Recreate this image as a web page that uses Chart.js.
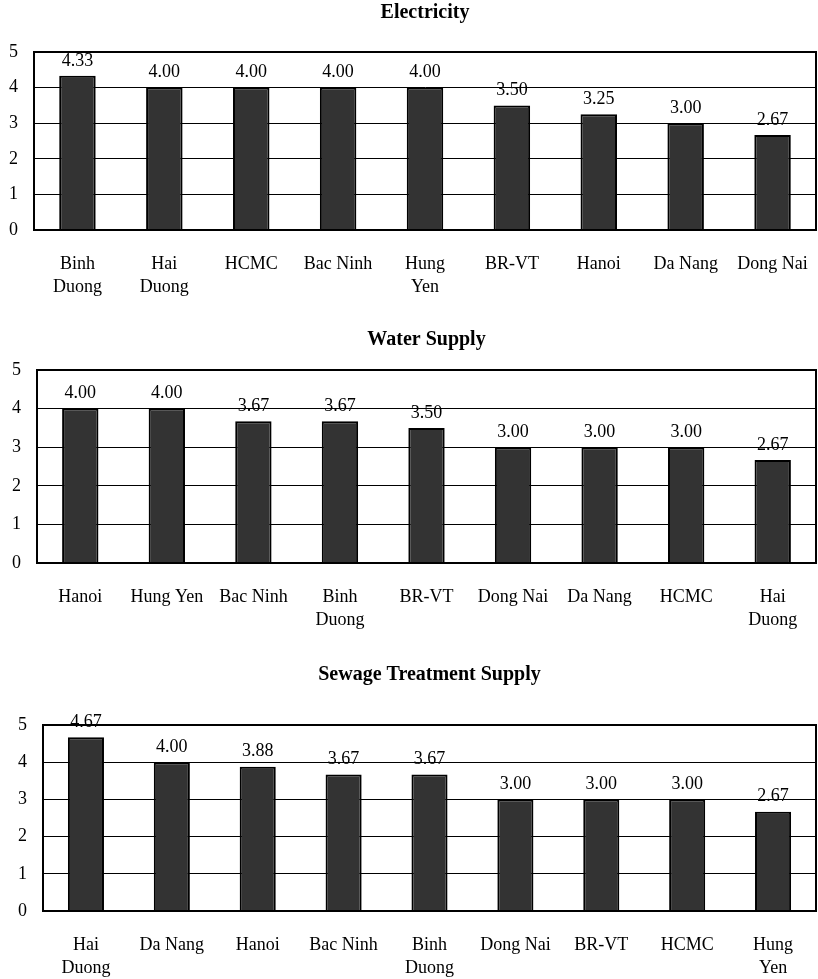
<!DOCTYPE html>
<html>
<head>
<meta charset="utf-8">
<script src="https://cdn.jsdelivr.net/npm/chart.js@4/dist/chart.umd.min.js"></script>
<style>
  body { margin: 0; background: #fff; }
  .box { position: absolute; left: 0; width: 818px; }
</style>
</head>
<body>
<div class="box" style="top:0px"><canvas id="chartElectricity" width="818" height="320"></canvas></div>
<div class="box" style="top:320px"><canvas id="chartWater" width="818" height="330"></canvas></div>
<div class="box" style="top:650px"><canvas id="chartSewage" width="818" height="329"></canvas></div>
<script>
const yTicks = [0, 1, 2, 3, 4, 5];

const elecLabels = [['Binh', 'Duong'], ['Hai', 'Duong'], 'HCMC', 'Bac Ninh', ['Hung', 'Yen'], 'BR-VT', 'Hanoi', 'Da Nang', 'Dong Nai'];
const elecValues = [4.33, 4.00, 4.00, 4.00, 4.00, 3.50, 3.25, 3.00, 2.67];

const waterLabels = ['Hanoi', 'Hung Yen', 'Bac Ninh', ['Binh', 'Duong'], 'BR-VT', 'Dong Nai', 'Da Nang', 'HCMC', ['Hai', 'Duong']];
const waterValues = [4.00, 4.00, 3.67, 3.67, 3.50, 3.00, 3.00, 3.00, 2.67];

const sewageLabels = [['Hai', 'Duong'], 'Da Nang', 'Hanoi', 'Bac Ninh', ['Binh', 'Duong'], 'Dong Nai', 'BR-VT', 'HCMC', ['Hung', 'Yen']];
const sewageValues = [4.67, 4.00, 3.88, 3.67, 3.67, 3.00, 3.00, 3.00, 2.67];

const serif = 'Liberation Serif, Times New Roman, serif';

// frame, title and value labels
const decoPlugin = {
  id: 'deco',
  afterDraw(chart, args, opts) {
    const ctx = chart.ctx;
    const area = chart.chartArea;
    ctx.save();
    ctx.strokeStyle = '#000';
    ctx.lineWidth = 2;
    ctx.strokeRect(area.left, area.top, area.right - area.left, area.bottom - area.top);

    ctx.fillStyle = '#000';
    ctx.textAlign = 'center';
    ctx.textBaseline = 'middle';
    ctx.font = 'bold 20px ' + serif;
    ctx.fillText(opts.title, (area.left + area.right) / 2, opts.titleY);

    ctx.font = '18px ' + serif;
    const meta = chart.getDatasetMeta(0);
    const values = chart.data.datasets[0].data;
    meta.data.forEach(function(bar, i) {
      ctx.fillText(values[i].toFixed(2), bar.x, bar.y - 15);
    });
    ctx.restore();
  }
};

function makeChart(elementId, labels, values, title, titleY, top, left, xHeight) {
  const canvas = document.getElementById(elementId);
  const setup = {
    type: 'bar',
    data: {
      labels: labels,
      datasets: [{
        data: values,
        backgroundColor: '#333333',
        borderColor: '#000000',
        borderWidth: 2,
        categoryPercentage: 1,
        barPercentage: 0.42
      }]
    },
    options: {
      responsive: false,
      animation: false,
      layout: { padding: { top: top, right: 2, left: 0, bottom: 0 } },
      plugins: {
        legend: { display: false },
        tooltip: { enabled: false },
        deco: { title: title, titleY: titleY }
      },
      scales: {
        x: {
          grid: { display: false, drawTicks: false },
          border: { color: '#000', width: 2 },
          ticks: {
            color: '#000',
            font: { family: serif, size: 18, lineHeight: 1.28 },
            padding: 23,
            maxRotation: 0,
            autoSkip: false
          },
          afterFit: function(scale) {
            scale.height = xHeight;
            scale.paddingLeft = 0;
            scale.paddingRight = 0;
          }
        },
        y: {
          min: 0,
          max: 5,
          afterBuildTicks: function(scale) {
            scale.ticks = yTicks.map(function(v) { return { value: v }; });
          },
          grid: { color: '#000', lineWidth: 1, drawTicks: false },
          border: { color: '#000', width: 2 },
          ticks: {
            color: '#000',
            font: { family: serif, size: 18 },
            padding: 16
          },
          afterFit: function(scale) { scale.width = left; }
        }
      }
    },
    plugins: [decoPlugin]
  };
  return new Chart(canvas, setup);
}

makeChart('chartElectricity', elecLabels, elecValues, 'Electricity', 13, 52, 34, 90);
makeChart('chartWater', waterLabels, waterValues, 'Water Supply', 20, 50, 37, 87);
makeChart('chartSewage', sewageLabels, sewageValues, 'Sewage Treatment Supply', 25, 75, 43, 68);
</script>
</body>
</html>
